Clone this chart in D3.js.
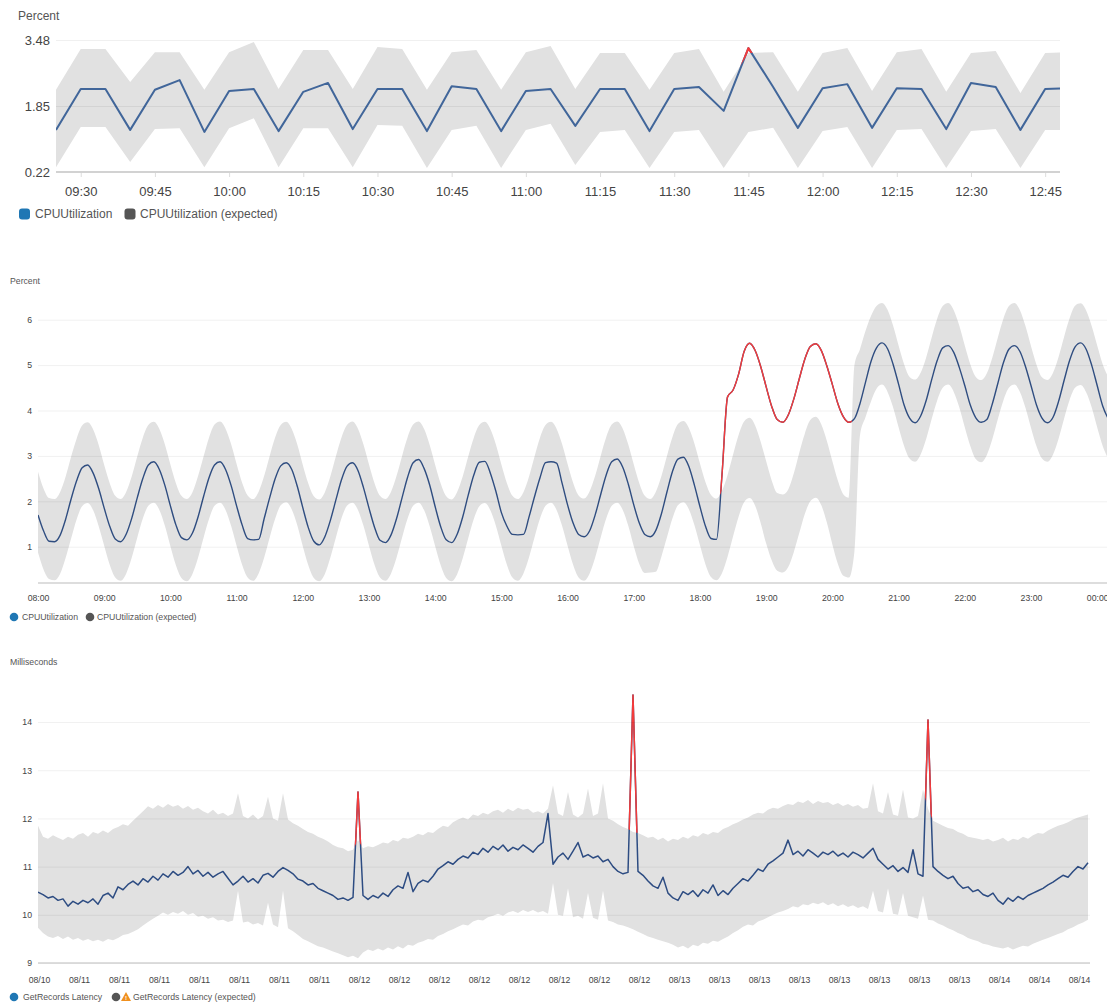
<!DOCTYPE html>
<html>
<head>
<meta charset="utf-8">
<style>
  body { margin: 0; background: #fff; }
  svg { display: block; font-family: "Liberation Sans", Arial, Helvetica, sans-serif; }
</style>
</head>
<body>
<svg id="chart" width="1107" height="1004"></svg>
<script src="https://cdn.jsdelivr.net/npm/d3@7/dist/d3.min.js"></script>
<script>
// ---------- top chart: CPUUtilization, one point every 5 minutes from 09:25
const cpuStart = "09:25"
const cpuValues = [1.26, 2.27, 2.27, 1.26, 2.25, 2.49, 1.21, 2.22, 2.27, 1.23,
  2.20, 2.42, 1.28, 2.27, 2.27, 1.23, 2.34, 2.27, 1.23, 2.22,
  2.27, 1.36, 2.27, 2.27, 1.23, 2.27, 2.32, 1.73, 3.28, 2.32,
  1.31, 2.29, 2.39, 1.31, 2.29, 2.27, 1.28, 2.42, 2.32, 1.26,
  2.27, 2.29]
const cpuUpper = [2.25, 3.26, 3.26, 2.44, 3.18, 3.18, 2.25, 3.18, 3.43, 2.27,
  3.23, 3.23, 2.27, 3.31, 3.26, 2.25, 3.18, 3.23, 2.25, 3.18,
  3.33, 2.27, 3.16, 3.16, 2.25, 3.16, 3.26, 2.20, 3.16, 3.18,
  2.20, 3.16, 3.28, 2.22, 3.18, 3.26, 2.20, 3.16, 3.21, 2.17,
  3.16, 3.18]
const cpuLower = [0.34, 1.33, 1.33, 0.47, 1.28, 1.30, 0.34, 1.30, 1.55, 0.34,
  1.30, 1.30, 0.34, 1.38, 1.36, 0.32, 1.26, 1.36, 0.32, 1.26,
  1.41, 0.39, 1.21, 1.26, 0.32, 1.21, 1.26, 0.32, 1.21, 1.31,
  0.32, 1.23, 1.33, 0.32, 1.26, 1.28, 0.32, 1.23, 1.28, 0.32,
  1.26, 1.26]
const cpuTicks = ["09:30", "09:45", "10:00", "10:15", "10:30", "10:45", "11:00",
  "11:15", "11:30", "11:45", "12:00", "12:15", "12:30", "12:45"]
const cpuYTicks = [0.22, 1.85, 3.48]

// ---------- middle chart: CPUUtilization over a day, 5 minute points from 08:00
const dayStart = "08:00"
const dayValues = [
  1.70, 1.35, 1.12, 1.11, 1.25, 1.60, 2.05, 2.45, 2.74, 2.80, 2.62, 2.28,
  1.85, 1.45, 1.17, 1.11, 1.28, 1.63, 2.08, 2.50, 2.80, 2.87, 2.70, 2.35,
  1.90, 1.48, 1.20, 1.15, 1.30, 1.65, 2.10, 2.52, 2.80, 2.87, 2.70, 2.35,
  1.90, 1.48, 1.18, 1.15, 1.16, 1.62, 2.08, 2.50, 2.78, 2.85, 2.70, 2.33,
  1.86, 1.42, 1.12, 1.04, 1.22, 1.58, 2.03, 2.47, 2.77, 2.85, 2.68, 2.30,
  1.85, 1.43, 1.14, 1.09, 1.26, 1.62, 2.08, 2.53, 2.85, 2.92, 2.72, 2.36,
  1.88, 1.44, 1.15, 1.09, 1.28, 1.66, 2.14, 2.58, 2.86, 2.88, 2.62, 2.22,
  1.75, 1.45, 1.27, 1.26, 1.27, 1.65, 2.10, 2.52, 2.85, 2.87, 2.84, 2.40,
  1.92, 1.52, 1.27, 1.22, 1.35, 1.70, 2.15, 2.58, 2.87, 2.93, 2.75, 2.38,
  1.92, 1.52, 1.27, 1.22, 1.36, 1.72, 2.20, 2.65, 2.93, 2.97, 2.76, 2.35,
  1.88, 1.45, 1.18, 1.16, 2.60, 4.30, 4.45, 4.80, 5.30, 5.48, 5.32, 4.97,
  4.52, 4.09, 3.80, 3.74, 3.90, 4.25, 4.70, 5.13, 5.41, 5.47, 5.32, 4.98,
  4.57, 4.15, 3.86, 3.74, 3.82, 4.15, 4.62, 5.08, 5.38, 5.49, 5.36, 5.02,
  4.58, 4.12, 3.83, 3.73, 3.88, 4.22, 4.68, 5.10, 5.38, 5.43, 5.28, 4.95,
  4.55, 4.12, 3.84, 3.74, 3.80, 4.15, 4.60, 5.05, 5.35, 5.43, 5.30, 4.97,
  4.55, 4.12, 3.83, 3.73, 3.85, 4.20, 4.66, 5.10, 5.40, 5.49, 5.35, 5.00,
  4.55, 4.10, 3.82]
const dayUpper = [
  2.65, 2.28, 2.07, 2.05, 2.20, 2.54, 2.98, 3.38, 3.67, 3.74, 3.58, 3.24,
  2.80, 2.40, 2.12, 2.05, 2.21, 2.55, 2.99, 3.40, 3.68, 3.75, 3.59, 3.25,
  2.81, 2.40, 2.12, 2.05, 2.20, 2.55, 2.98, 3.40, 3.69, 3.76, 3.60, 3.26,
  2.82, 2.41, 2.13, 2.05, 2.21, 2.56, 3.00, 3.41, 3.68, 3.75, 3.59, 3.25,
  2.80, 2.39, 2.11, 2.04, 2.20, 2.55, 2.99, 3.40, 3.68, 3.76, 3.60, 3.25,
  2.81, 2.40, 2.12, 2.05, 2.21, 2.56, 3.00, 3.41, 3.69, 3.76, 3.59, 3.24,
  2.80, 2.39, 2.11, 2.04, 2.21, 2.55, 2.99, 3.40, 3.68, 3.75, 3.59, 3.25,
  2.81, 2.40, 2.12, 2.05, 2.20, 2.54, 2.98, 3.40, 3.68, 3.75, 3.60, 3.26,
  2.82, 2.41, 2.13, 2.06, 2.22, 2.56, 3.00, 3.41, 3.69, 3.76, 3.60, 3.25,
  2.81, 2.40, 2.12, 2.05, 2.21, 2.55, 2.99, 3.41, 3.70, 3.77, 3.61, 3.27,
  2.83, 2.42, 2.14, 2.06, 2.23, 2.58, 3.03, 3.46, 3.76, 3.84, 3.67, 3.31,
  2.88, 2.46, 2.18, 2.15, 2.26, 2.61, 3.07, 3.49, 3.79, 3.86, 3.69, 3.33,
  2.88, 2.45, 2.15, 2.08, 5.00, 5.35, 5.75, 6.08, 6.30, 6.37, 6.22, 5.87,
  5.43, 5.02, 4.74, 4.68, 4.83, 5.17, 5.61, 6.02, 6.30, 6.37, 6.21, 5.87,
  5.43, 5.02, 4.74, 4.67, 4.82, 5.17, 5.61, 6.02, 6.30, 6.37, 6.21, 5.86,
  5.42, 5.01, 4.73, 4.67, 4.83, 5.18, 5.62, 6.03, 6.31, 6.36, 6.20, 5.86,
  5.43, 5.02, 4.74]
const dayLower = [
  0.87, 0.50, 0.29, 0.26, 0.40, 0.75, 1.18, 1.60, 1.89, 1.96, 1.80, 1.45,
  1.02, 0.60, 0.32, 0.25, 0.41, 0.76, 1.20, 1.62, 1.90, 1.97, 1.81, 1.46,
  1.01, 0.59, 0.31, 0.24, 0.40, 0.75, 1.19, 1.61, 1.90, 1.97, 1.81, 1.46,
  1.02, 0.60, 0.32, 0.25, 0.41, 0.76, 1.20, 1.62, 1.91, 1.98, 1.82, 1.47,
  1.01, 0.59, 0.31, 0.24, 0.40, 0.76, 1.20, 1.62, 1.90, 1.97, 1.81, 1.46,
  1.02, 0.60, 0.32, 0.25, 0.41, 0.76, 1.20, 1.62, 1.90, 1.97, 1.80, 1.45,
  1.01, 0.59, 0.31, 0.24, 0.40, 0.75, 1.19, 1.61, 1.89, 1.96, 1.80, 1.46,
  1.02, 0.60, 0.32, 0.25, 0.41, 0.76, 1.20, 1.62, 1.90, 1.97, 1.81, 1.46,
  1.02, 0.60, 0.32, 0.25, 0.41, 0.76, 1.20, 1.62, 1.90, 1.97, 1.81, 1.46,
  1.01, 0.62, 0.42, 0.43, 0.45, 0.78, 1.20, 1.62, 1.91, 1.98, 1.82, 1.47,
  1.03, 0.61, 0.33, 0.26, 0.42, 0.78, 1.23, 1.66, 1.98, 2.07, 1.90, 1.52,
  1.07, 0.70, 0.47, 0.43, 0.55, 0.88, 1.30, 1.72, 2.00, 2.08, 1.91, 1.53,
  1.05, 0.62, 0.36, 0.32, 0.90, 3.45, 3.85, 4.20, 4.48, 4.57, 4.41, 4.07,
  3.63, 3.22, 2.94, 2.87, 3.03, 3.37, 3.81, 4.22, 4.50, 4.57, 4.41, 4.07,
  3.63, 3.22, 2.93, 2.86, 3.02, 3.37, 3.81, 4.22, 4.50, 4.57, 4.41, 4.06,
  3.62, 3.21, 2.94, 2.87, 3.03, 3.38, 3.82, 4.23, 4.50, 4.56, 4.40, 4.07,
  3.63, 3.22, 2.94]
const dayTicks = ["08:00", "09:00", "10:00", "11:00", "12:00", "13:00", "14:00", "15:00",
  "16:00", "17:00", "18:00", "19:00", "20:00", "21:00", "22:00", "23:00", "00:00"]
const dayYTicks = [1, 2, 3, 4, 5, 6]

// ---------- bottom chart: GetRecords latency, evenly spaced samples (8 per tick)
const latValues = [
  10.47, 10.42, 10.35, 10.38, 10.30, 10.33, 10.18, 10.28, 10.22, 10.30,
  10.25, 10.33, 10.22, 10.40, 10.45, 10.35, 10.58, 10.52, 10.63, 10.70,
  10.62, 10.75, 10.68, 10.80, 10.72, 10.85, 10.78, 10.90, 10.82, 10.88,
  11.00, 10.85, 10.92, 10.80, 10.88, 10.78, 10.85, 10.90, 10.76, 10.62,
  10.70, 10.80, 10.68, 10.75, 10.66, 10.82, 10.86, 10.78, 10.90, 10.98,
  10.92, 10.85, 10.74, 10.70, 10.62, 10.65, 10.55, 10.50, 10.45, 10.40,
  10.32, 10.35, 10.30, 10.36, 12.55, 10.40, 10.32, 10.40, 10.35, 10.45,
  10.38, 10.52, 10.60, 10.55, 10.88, 10.48, 10.65, 10.72, 10.68, 10.80,
  10.95, 11.02, 11.10, 11.05, 11.15, 11.22, 11.18, 11.30, 11.25, 11.38,
  11.30, 11.42, 11.35, 11.45, 11.32, 11.40, 11.35, 11.45, 11.38, 11.30,
  11.42, 11.50, 12.10, 11.05, 11.20, 11.28, 11.15, 11.32, 11.50, 11.20,
  11.25, 11.18, 11.22, 11.10, 11.15, 11.00, 10.90, 10.85, 10.88, 14.56,
  10.90, 10.82, 10.70, 10.60, 10.55, 10.78, 10.45, 10.35, 10.30, 10.48,
  10.42, 10.50, 10.38, 10.52, 10.45, 10.62, 10.40, 10.50, 10.42, 10.55,
  10.65, 10.75, 10.70, 10.82, 10.95, 10.90, 11.05, 11.12, 11.20, 11.28,
  11.55, 11.25, 11.32, 11.22, 11.35, 11.28, 11.20, 11.30, 11.25, 11.32,
  11.22, 11.28, 11.20, 11.30, 11.25, 11.18, 11.28, 11.38, 11.15, 11.05,
  10.95, 11.02, 10.90, 10.98, 10.88, 11.35, 10.85, 10.80, 14.04, 11.00,
  10.90, 10.82, 10.75, 10.80, 10.65, 10.55, 10.58, 10.48, 10.52, 10.42,
  10.38, 10.45, 10.30, 10.22, 10.35, 10.28, 10.38, 10.32, 10.40, 10.45,
  10.50, 10.55, 10.62, 10.68, 10.75, 10.82, 10.78, 10.90, 11.00, 10.95,
  11.08]
const latUpper = [
  11.85, 11.62, 11.58, 11.65, 11.60, 11.55, 11.62, 11.58, 11.66, 11.70,
  11.62, 11.72, 11.68, 11.75, 11.70, 11.78, 11.82, 11.88, 11.85, 11.95,
  12.05, 12.15, 12.25, 12.20, 12.28, 12.22, 12.30, 12.24, 12.28, 12.20,
  12.26, 12.18, 12.22, 12.15, 12.10, 12.18, 12.08, 12.12, 12.05, 12.10,
  12.52, 12.05, 12.00, 12.08, 11.98, 12.05, 12.45, 12.00, 11.95, 12.52,
  11.98, 11.90, 11.85, 11.78, 11.72, 11.68, 11.62, 11.58, 11.52, 11.45,
  11.40, 11.38, 11.32, 11.35, 11.55, 11.38, 11.42, 11.40, 11.45, 11.50,
  11.48, 11.55, 11.52, 11.60, 11.58, 11.62, 11.68, 11.65, 11.72, 11.70,
  11.78, 11.85, 11.82, 11.92, 11.98, 12.02, 11.98, 12.08, 12.05, 12.12,
  12.08, 12.15, 12.18, 12.12, 12.20, 12.15, 12.22, 12.18, 12.20, 12.12,
  12.15, 12.10, 12.20, 12.69, 12.10, 12.05, 12.55, 12.08, 12.02, 12.10,
  12.62, 12.05, 12.10, 12.73, 12.00, 11.95, 11.88, 11.82, 11.78, 11.72,
  11.70, 11.65, 11.60, 11.62, 11.55, 11.60, 11.52, 11.58, 11.55, 11.62,
  11.58, 11.65, 11.62, 11.70, 11.66, 11.72, 11.70, 11.78, 11.82, 11.88,
  11.92, 11.98, 12.02, 12.08, 12.12, 12.10, 12.18, 12.22, 12.20, 12.26,
  12.30, 12.28, 12.35, 12.32, 12.38, 12.30, 12.36, 12.32, 12.34, 12.28,
  12.32, 12.26, 12.30, 12.24, 12.28, 12.20, 12.22, 12.73, 12.15, 12.10,
  12.55, 12.08, 12.05, 12.60, 12.02, 12.00, 12.05, 12.60, 12.20, 11.95,
  11.90, 11.85, 11.80, 11.78, 11.72, 11.68, 11.62, 11.60, 11.58, 11.55,
  11.58, 11.52, 11.55, 11.60, 11.52, 11.58, 11.55, 11.62, 11.58, 11.65,
  11.70, 11.68, 11.75, 11.80, 11.85, 11.88, 11.92, 11.98, 12.02, 12.05,
  12.08]
const latLower = [
  9.73, 9.62, 9.55, 9.52, 9.56, 9.50, 9.55, 9.48, 9.52, 9.46,
  9.50, 9.45, 9.48, 9.44, 9.50, 9.47, 9.52, 9.58, 9.60, 9.65,
  9.70, 9.78, 9.85, 9.92, 9.98, 10.05, 10.00, 10.06, 10.02, 10.08,
  10.00, 10.04, 9.96, 9.98, 9.92, 9.95, 9.88, 9.90, 9.85, 9.88,
  10.50, 9.84, 9.86, 9.80, 9.83, 9.78, 10.25, 9.80, 9.74, 10.50,
  9.72, 9.66, 9.58, 9.50, 9.45, 9.40, 9.35, 9.32, 9.28, 9.24,
  9.20, 9.16, 9.12, 9.15, 9.10, 9.22, 9.28, 9.25, 9.30, 9.26,
  9.32, 9.28, 9.35, 9.30, 9.38, 9.36, 9.42, 9.45, 9.50, 9.48,
  9.56, 9.60, 9.66, 9.70, 9.75, 9.80, 9.78, 9.86, 9.90, 9.88,
  9.95, 9.98, 10.02, 9.98, 10.05, 10.08, 10.04, 10.10, 10.06, 10.10,
  10.05, 10.08, 10.02, 10.66, 10.00, 9.98, 10.55, 9.95, 9.98, 9.92,
  10.45, 9.94, 9.90, 10.50, 9.88, 9.85, 9.80, 9.78, 9.74, 9.70,
  9.65, 9.60, 9.55, 9.52, 9.48, 9.45, 9.42, 9.38, 9.32, 9.36,
  9.30, 9.38, 9.35, 9.42, 9.40, 9.46, 9.44, 9.50, 9.55, 9.62,
  9.68, 9.75, 9.80, 9.78, 9.86, 9.90, 9.95, 10.00, 10.05, 10.08,
  10.12, 10.18, 10.15, 10.22, 10.20, 10.25, 10.22, 10.26, 10.20, 10.24,
  10.18, 10.22, 10.16, 10.20, 10.14, 10.18, 10.12, 10.50, 10.08, 10.05,
  10.55, 10.02, 10.00, 10.45, 9.98, 9.95, 9.92, 10.40, 9.90, 9.88,
  9.82, 9.78, 9.72, 9.68, 9.62, 9.58, 9.52, 9.48, 9.45, 9.40,
  9.38, 9.34, 9.32, 9.30, 9.33, 9.28, 9.32, 9.36, 9.34, 9.40,
  9.44, 9.48, 9.52, 9.56, 9.60, 9.64, 9.70, 9.74, 9.80, 9.84,
  9.90]
const latTicks = ["08/10", "08/11", "08/11", "08/11", "08/11", "08/11", "08/11", "08/11",
  "08/12", "08/12", "08/12", "08/12", "08/12", "08/12", "08/12", "08/12",
  "08/13", "08/13", "08/13", "08/13", "08/13", "08/13", "08/13", "08/13",
  "08/14", "08/14", "08/14"]
const latYTicks = [9, 10, 11, 12, 13, 14]

// ---------- drawing
const svg = d3.select("#chart")
const bandColor = "#e1e1e1"
const redColor = "#f33b3b"
const legendBlue = "#1f77b4"
const legendGray = "#555"

// "HH:MM" to a date; anything before `after` rolls to the next day
function hm(s, after) {
  let [h, m] = s.split(":").map(Number)
  let d = new Date(2020, 0, 1, h, m)
  if (after && d < after) d = d3.timeDay.offset(d, 1)
  return d
}

// band + grid + metric line + red part of the line that leaves the band
function drawBody(id, box, x, y, xs, values, upper, lower, yTicks, yFormat, curve, lineColor, lineWidth) {
  let g = svg.append("g")
  let px = (d, i) => x(xs[i])
  let defs = g.append("defs")

  defs.append("clipPath").attr("id", id + "-box")
    .append("rect")
    .attr("x", box.left).attr("y", box.top)
    .attr("width", box.right - box.left).attr("height", box.bottom - box.top)

  let out = defs.append("clipPath").attr("id", id + "-out")
  out.append("path").attr("d", d3.area().curve(curve).x(px).y0(box.top - 50).y1(d => y(d))(upper))
  out.append("path").attr("d", d3.area().curve(curve).x(px).y0(d => y(d)).y1(box.bottom + 50)(lower))

  let plot = g.append("g").attr("clip-path", `url(#${id}-box)`)
  plot.append("path")
    .attr("d", d3.area().curve(curve).x(px).y0((d, i) => y(lower[i])).y1(d => y(d))(upper))
    .attr("fill", bandColor)

  // y axis used as grid lines + labels
  let yAxis = g.append("g")
    .attr("transform", `translate(${box.left},0)`)
    .call(d3.axisLeft(y).tickValues(yTicks).tickFormat(yFormat)
      .tickSize(-(box.gridRight - box.left)).tickPadding(box.yPad))
  yAxis.select(".domain").remove()
  yAxis.selectAll("line").attr("stroke", "#000").attr("stroke-opacity", 0.06)
  yAxis.selectAll("text").attr("font-size", box.font).attr("fill", "#444")
    .attr("font-family", null)

  // base line of the chart
  g.append("line")
    .attr("x1", box.left).attr("x2", box.gridRight)
    .attr("y1", box.bottom).attr("y2", box.bottom)
    .attr("stroke", "#d2d2d2").attr("stroke-width", box.baseWidth)

  let line = d3.line().curve(curve).x(px).y(d => y(d))
  plot.append("path").attr("d", line(values))
    .attr("fill", "none").attr("stroke", lineColor).attr("stroke-width", lineWidth)
    .attr("stroke-linejoin", "round")
  plot.append("g").attr("clip-path", `url(#${id}-out)`)
    .append("path").attr("d", line(values))
    .attr("fill", "none").attr("stroke", redColor).attr("stroke-width", lineWidth)
    .attr("stroke-linejoin", "round")
  return g
}

function styleXAxis(ax, font) {
  ax.select(".domain").remove()
  ax.selectAll("line").attr("stroke", "#ddd")
  ax.selectAll("text").attr("font-size", font).attr("fill", "#444").attr("font-family", null)
}

function legend(items, cy, font, square) {
  for (let it of items) {
    if (square) {
      svg.append("rect").attr("x", it.mx - 5.5).attr("y", cy - 5.5)
        .attr("width", 11).attr("height", 11).attr("rx", 3).attr("fill", it.color)
    } else {
      svg.append("circle").attr("cx", it.mx).attr("cy", cy).attr("r", 4.3).attr("fill", it.color)
    }
    if (it.warn) {
      svg.append("path")
        .attr("d", `M${it.warn},${cy - 5}L${it.warn + 5},${cy + 4}L${it.warn - 5},${cy + 4}Z`)
        .attr("fill", "#f0901e")
      svg.append("text").attr("x", it.warn).attr("y", cy + 3.3)
        .attr("text-anchor", "middle").attr("font-size", 6).attr("font-weight", "bold")
        .attr("fill", "#fff").text("!")
    }
    svg.append("text").attr("x", it.tx).attr("y", cy + font * 0.35)
      .attr("font-size", font).attr("fill", "#555").text(it.label)
  }
}

// ---------- top chart
{
  let t0 = hm(cpuStart)
  let xs = cpuValues.map((d, i) => d3.timeMinute.offset(t0, 5 * i))
  let box = { left: 56, right: 1060, gridRight: 1060, top: 30, bottom: 172, font: 13, yPad: 6, baseWidth: 2 }
  let x = d3.scaleTime().domain([hm("09:25"), hm("12:48")]).range([box.left, box.right])
  let y = d3.scaleLinear().domain([0.22, 3.48]).range([172, 40])

  drawBody("cpu", box, x, y, xs, cpuValues, cpuUpper, cpuLower, cpuYTicks,
    d3.format(".2f"), d3.curveLinear, "#41669a", 2)

  let xAxis = svg.append("g").attr("transform", `translate(0,${box.bottom + 1})`)
    .call(d3.axisBottom(x).tickValues(cpuTicks.map(s => hm(s))).tickFormat(d3.timeFormat("%H:%M"))
      .tickSize(4).tickPadding(10))
  styleXAxis(xAxis, 13)

  svg.append("text").attr("x", 18).attr("y", 20).attr("font-size", 12).attr("fill", "#555").text("Percent")
  legend([
    { mx: 24.5, tx: 35, color: legendBlue, label: "CPUUtilization" },
    { mx: 130, tx: 140, color: legendGray, label: "CPUUtilization (expected)" }
  ], 214, 12, true)
}

// ---------- middle chart
{
  let t0 = hm(dayStart)
  let xs = dayValues.map((d, i) => d3.timeMinute.offset(t0, 5 * i))
  let box = { left: 38, right: 1107, gridRight: 1107, top: 290, bottom: 583, font: 8.7, yPad: 6, baseWidth: 1.5 }
  let x = d3.scaleTime().domain([t0, hm("00:08", t0)]).range([38, 1106])
  let y = d3.scaleLinear().domain([0.2, 6.5]).range([583, 297])

  drawBody("day", box, x, y, xs, dayValues, dayUpper, dayLower, dayYTicks,
    d3.format("d"), d3.curveMonotoneX, "#2f4d80", 1.4)

  let xAxis = svg.append("g").attr("transform", `translate(0,${box.bottom})`)
    .call(d3.axisBottom(x).tickValues(dayTicks.map(s => hm(s, t0))).tickFormat(d3.timeFormat("%H:%M"))
      .tickSize(0).tickPadding(12))
  styleXAxis(xAxis, 8.7)

  svg.append("text").attr("x", 10).attr("y", 284).attr("font-size", 8.7).attr("fill", "#555").text("Percent")
  legend([
    { mx: 14, tx: 22, color: legendBlue, label: "CPUUtilization" },
    { mx: 90, tx: 97, color: legendGray, label: "CPUUtilization (expected)" }
  ], 617, 8.7, false)
}

// ---------- bottom chart
{
  let xs = latValues.map((d, i) => i)
  let box = { left: 38, right: 1090, gridRight: 1090, top: 680, bottom: 963, font: 8.7, yPad: 6, baseWidth: 1.5 }
  let x = d3.scaleLinear().domain([0, 210]).range([38, 1088])
  let y = d3.scaleLinear().domain([9, 14.7]).range([963, 688.3])

  drawBody("lat", box, x, y, xs, latValues, latUpper, latLower, latYTicks,
    d3.format("d"), d3.curveLinear, "#2d4c82", 1.5)

  let xAxis = svg.append("g").attr("transform", `translate(0,${box.bottom})`)
    .call(d3.axisBottom(x).tickValues(latTicks.map((d, k) => 8 * k + 0.2))
      .tickFormat((d, k) => latTicks[k]).tickSize(0).tickPadding(14))
  styleXAxis(xAxis, 8.7)

  svg.append("text").attr("x", 10).attr("y", 665).attr("font-size", 8.7).attr("fill", "#555").text("Milliseconds")
  legend([
    { mx: 14, tx: 23, color: legendBlue, label: "GetRecords Latency" },
    { mx: 116, tx: 133, color: legendGray, label: "GetRecords Latency (expected)", warn: 126 }
  ], 997, 8.7, false)
}
</script>
</body>
</html>
